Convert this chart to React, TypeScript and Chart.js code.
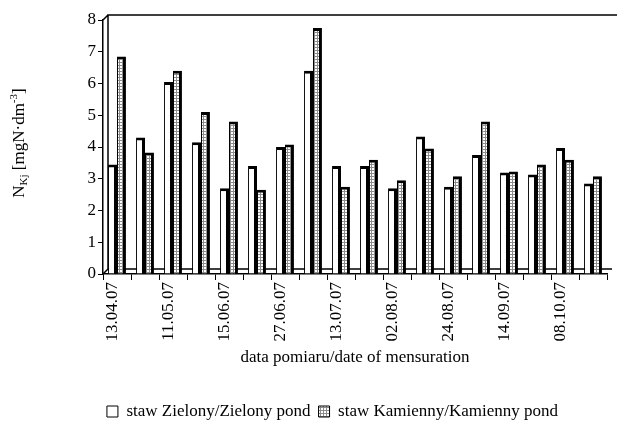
import React, { useEffect, useRef } from "react";
import { Chart, registerables } from "chart.js";

Chart.register(...registerables);

const categories = ["13.04.07", "", "11.05.07", "", "15.06.07", "", "27.06.07", "", "13.07.07", "", "02.08.07", "", "24.08.07", "", "14.09.07", "", "08.10.07", ""];
const zielony = [3.45, 4.3, 6.05, 4.15, 2.7, 3.4, 4.0, 6.4, 3.4, 3.4, 2.7, 4.33, 2.75, 3.75, 3.2, 3.13, 3.97, 2.85];
const kamienny = [6.85, 3.83, 6.4, 5.1, 4.8, 2.65, 4.08, 7.75, 2.75, 3.6, 2.95, 3.95, 3.08, 4.8, 3.23, 3.45, 3.6, 3.08];
const seriesNames = ["staw Zielony/Zielony pond", "staw Kamienny/Kamienny pond"];
const yTicks = [0, 1, 2, 3, 4, 5, 6, 7, 8];

const FONT = "'Liberation Serif', 'Times New Roman', serif";

function makePattern(): CanvasPattern | string {
  const c = document.createElement("canvas");
  c.width = 3;
  c.height = 3;
  const g = c.getContext("2d");
  if (!g) return "#c0c0c0";
  g.fillStyle = "#8c8c8c";
  g.fillRect(0, 0, 3, 3);
  g.fillStyle = "#ffffff";
  g.fillRect(0, 0, 2, 2);
  const ctx = document.createElement("canvas").getContext("2d");
  return (ctx && ctx.createPattern(c, "repeat")) || "#c0c0c0";
}

const depth = 5;

const framePlugin = {
  id: "frame3d",
  beforeDatasetsDraw(chart: any) {
    const { ctx, chartArea } = chart;
    const { left, right, top, bottom } = chartArea;
    ctx.save();
    ctx.strokeStyle = "#000";
    ctx.lineWidth = 1.5;
    ctx.beginPath();
    ctx.moveTo(left + depth, bottom - depth);
    ctx.lineTo(left + depth, top - depth);
    ctx.lineTo(chart.width, top - depth);
    ctx.moveTo(left, top);
    ctx.lineTo(left + depth, top - depth);
    ctx.moveTo(left, bottom);
    ctx.lineTo(left + depth, bottom - depth);
    ctx.moveTo(left + depth, bottom - depth);
    ctx.lineTo(right + depth, bottom - depth);
    ctx.stroke();
    ctx.restore();
  },
  afterDraw(chart: any) {
    const { ctx } = chart;
    const cy = 143;
    const cx = 20;
    ctx.save();
    ctx.translate(cx, cy);
    ctx.rotate(-Math.PI / 2);
    ctx.fillStyle = "#000";
    ctx.textBaseline = "middle";
    const big = "17px " + FONT;
    const small = "11px " + FONT;
    const parts: [string, string, number][] = [
      ["N", big, 0],
      ["Kj", small, 4],
      [" [mgN·dm", big, 0],
      ["-3", small, -6],
      ["]", big, 0],
    ];
    let total = 0;
    for (const [t, f] of parts) {
      ctx.font = f;
      total += ctx.measureText(t).width;
    }
    let x = -total / 2;
    for (const [t, f, dy] of parts) {
      ctx.font = f;
      ctx.fillText(t, x, dy);
      x += ctx.measureText(t).width;
    }
    ctx.restore();
  },
};

export default function App() {
  const ref = useRef<HTMLCanvasElement | null>(null);

  useEffect(() => {
    if (!ref.current) return;
    const pattern = makePattern();
    const chart = new Chart(ref.current, {
      type: "bar",
      data: {
        labels: categories,
        datasets: [
          {
            label: seriesNames[0],
            data: zielony,
            backgroundColor: "#ffffff",
            borderColor: "#000000",
            borderWidth: { top: 3, right: 3, left: 1, bottom: 0 },
            borderSkipped: "start",
          },
          {
            label: seriesNames[1],
            data: kamienny,
            backgroundColor: pattern as any,
            borderColor: "#000000",
            borderWidth: { top: 3, right: 3, left: 1, bottom: 0 },
            borderSkipped: "start",
          },
        ],
      },
      plugins: [framePlugin],
      options: {
        animation: false,
        responsive: false,
        devicePixelRatio: 1,
        layout: { padding: { top: 20, right: 10, bottom: -5, left: 58 } },
        datasets: {
          bar: { categoryPercentage: 0.64, barPercentage: 1.0 },
        },
        plugins: {
          legend: {
            position: "bottom",
            labels: {
              font: { family: FONT, size: 17 },
              color: "#000",
              boxWidth: 11,
              boxHeight: 11,
              padding: 8,
              generateLabels: (chart: any) =>
                chart.data.datasets.map((ds: any, i: number) => ({
                  text: ds.label,
                  fillStyle: ds.backgroundColor,
                  strokeStyle: "#000",
                  lineWidth: 1,
                  hidden: false,
                  datasetIndex: i,
                })),
            },
          },
          tooltip: { enabled: false },
        },
        scales: {
          x: {
            offset: true,
            grid: {
              offset: true,
              drawOnChartArea: false,
              drawTicks: true,
              tickLength: 6,
              color: "#000",
            },
            border: { display: true, color: "#000", width: 1.5 },
            ticks: {
              autoSkip: false,
              maxRotation: 90,
              minRotation: 90,
              color: "#000",
              font: { family: FONT, size: 17 },
              labelOffset: -4,
              padding: 2,
            },
            title: {
              display: true,
              text: "data pomiaru/date of mensuration",
              color: "#000",
              font: { family: FONT, size: 17 },
              padding: { top: 27, bottom: 27 },
            },
            afterFit: (scale: any) => {
              scale.height = 121;
            },
          },
          y: {
            min: 0,
            max: 8,
            afterBuildTicks: (scale: any) => {
              scale.ticks = yTicks.map((v) => ({ value: v }));
            },
            grid: {
              drawOnChartArea: false,
              drawTicks: true,
              tickLength: 5,
              color: "#000",
            },
            border: { display: true, color: "#000", width: 1.5 },
            ticks: {
              color: "#000",
              font: { family: FONT, size: 17 },
              padding: 2,
            },
            afterFit: (scale: any) => {
              scale.width = 45;
            },
          },
        },
      },
    });
    return () => chart.destroy();
  }, []);

  return (
    <div style={{ position: "fixed", left: 0, top: 0, width: 617, height: 425, background: "#fff" }}>
      <canvas ref={ref} width={617} height={425} style={{ width: 617, height: 425 }} />
    </div>
  );
}
